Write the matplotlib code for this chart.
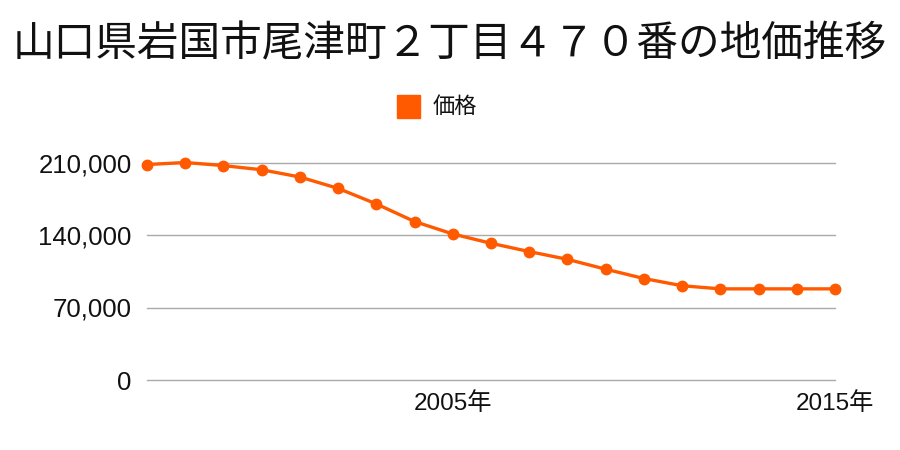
import matplotlib
matplotlib.use("Agg")
import matplotlib.pyplot as plt
from matplotlib.ticker import FuncFormatter, FixedLocator

plt.rcParams['font.family'] = ['Noto Sans CJK JP', 'DejaVu Sans']

title = "山口県岩国市尾津町２丁目４７０番の地価推移"
series_name = "価格"
years = list(range(1997, 2016))
prices = [208000, 210000, 207000, 203000, 196000, 185000, 170000, 153000, 141000,
          132000, 124000, 116500, 107000, 98000, 91000, 88000, 88000, 88000, 88000]
yticks = [0, 70000, 140000, 210000]
xticks = [2005, 2015]

color = "#ff5a00"
tick_family = ['Liberation Sans', 'Noto Sans CJK JP']

fig = plt.figure(figsize=(9, 4.5), dpi=100)
ax = fig.add_axes([147/900, 1 - 380/450, (835 - 147)/900, (380 - 162.5)/450])

ax.plot(years, prices, color=color, linewidth=2.4, marker='o', markersize=7.5,
        clip_on=False, zorder=3, label=series_name)

ax.set_xlim(years[0], years[-1])
ax.set_ylim(0, 210000)
ax.yaxis.set_major_locator(FixedLocator(yticks))
ax.yaxis.set_major_formatter(FuncFormatter(lambda v, p: f"{int(v):,}"))
ax.set_xticks(xticks)
ax.set_xticklabels([f"{y}年" for y in xticks])
ax.grid(axis='y', color='#aaaaaa', linewidth=1)
for gl in ax.get_ygridlines():
    gl.set_clip_on(False)
ax.set_axisbelow(True)
for s in ax.spines.values():
    s.set_visible(False)
ax.tick_params(axis='y', length=0, pad=11, labelsize=18.5, labelcolor='#111111')
ax.tick_params(axis='x', length=0, pad=9, labelsize=17.5, labelcolor='#111111')
for lbl in ax.get_xticklabels() + ax.get_yticklabels():
    lbl.set_family(tick_family)

fig.text(0.5, 1 - 45/450, title, ha='center', va='center', fontsize=30, color='#111111')

# legend
fig.patches.append(plt.Rectangle((397/900, 1 - 117.5/450), 23/900, 22.5/450,
                                 transform=fig.transFigure, color=color, figure=fig))
fig.text(433/900, 1 - 106/450, series_name, ha='left', va='center', fontsize=16, color='#111111')

fig.savefig("out.png", dpi=100, facecolor='white')
